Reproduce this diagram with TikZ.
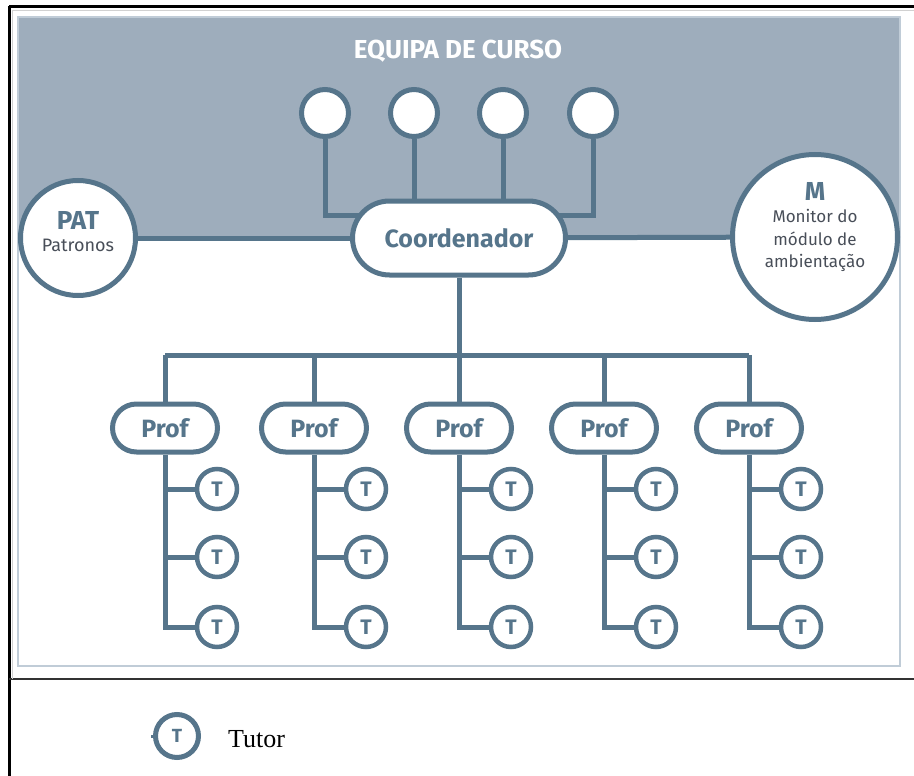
\documentclass[tikz,border=0pt]{standalone}
\usepackage{fontspec}
\setmainfont{Fira Sans}
\newfontfamily\legendfont{Liberation Serif}
\usetikzlibrary{calc}
\definecolor{linec}{RGB}{86,117,139}
\definecolor{bandc}{RGB}{158,173,188}
\definecolor{framec}{RGB}{192,204,215}
\definecolor{plaintext}{RGB}{72,78,88}
\pgfdeclarelayer{band}
\pgfdeclarelayer{wires}
\pgfsetlayers{band,wires,main}
\tikzset{
  wire/.style={draw=linec, line width=5pt},
  member/.style={circle, draw=linec, line width=5pt, fill=white, minimum size=47pt, inner sep=0pt},
  bigrole/.style={circle, draw=linec, line width=5pt, fill=white, inner sep=0pt, text=linec},
  pill/.style={rectangle, rounded corners=#1, draw=linec, line width=5pt, fill=white, inner sep=0pt, text=linec},
  tutor/.style={circle, draw=linec, line width=4.5pt, fill=white, minimum size=40pt, inner sep=0pt, text=linec,
    font=\fontsize{21}{22}\selectfont\bfseries},
}
\begin{document}
\begin{tikzpicture}[x=1pt,y=-1pt]
\useasboundingbox (0,0) rectangle (914,776);

% table frame
\draw[line width=3pt] (9,7) -- (914,7);
\draw[line width=3pt] (9,6) -- (9,776);
\draw[line width=2pt, black!80] (9,679) -- (914,679);
\draw[line width=0.8pt, black!18] (12,679) -- (12,10) -- (914,10);

% diagram area with shaded top band
\begin{pgfonlayer}{band}
  \fill[bandc] (18,17) rectangle (901,238);
  \draw[framec, line width=2pt] (18,17) rectangle (900,666);
\end{pgfonlayer}

\node[text=white, font=\fontsize{26}{28}\selectfont\bfseries] (title) at (458,51) {EQUIPA DE CURSO};

% course team
\node[member] (c1) at (325,113) {};
\node[member] (c2) at (414,113) {};
\node[member] (c3) at (503,113) {};
\node[member] (c4) at (593,113) {};

\node[pill=37pt, minimum width=213pt, minimum height=74pt, font=\fontsize{25}{28}\selectfont\bfseries]
  (coord) at (459,238) {Coordenador};

\node[bigrole, minimum size=115pt] (pat) at (78,238) {};
\node[text=plaintext, align=center, font=\fontsize{18}{22}\selectfont] (pattxt) at (78,232)
  {{\color{linec}\fontsize{26}{26}\selectfont\bfseries PAT}\\Patronos};

\node[bigrole, minimum size=165pt] (mon) at (815,237) {};
\node[text=plaintext, align=center, font=\fontsize{17}{22.5}\selectfont] (montxt) at (815,227)
  {{\color{linec}\fontsize{26}{24}\selectfont\bfseries M}\\Monitor do\\módulo de\\ambientação};

\coordinate (busL) at (165,355);
\coordinate (join) at (459,215);

% professors and their tutors
\foreach \i/\x in {1/165,2/314,3/459,4/604,5/749}{
  \node[pill=24pt, minimum width=105pt, minimum height=48pt, font=\fontsize{25}{28}\selectfont\bfseries]
    (p\i) at (\x,428) {Prof};
  \node[tutor] (t\i a) at (\x+52,489) {T};
  \node[tutor] (t\i b) at (\x+52,557) {T};
  \node[tutor] (t\i c) at (\x+52,627) {T};
}

\begin{pgfonlayer}{wires}
  \draw[wire] (pat) -- (coord);
  \draw[wire] (coord) -- (mon);
  \draw[wire] (c1) |- (join);
  \draw[wire] (c4) |- (join);
  \draw[wire] (c2) -- (c2|-coord.north);
  \draw[wire] (c3) -- (c3|-coord.north);
  \draw[wire] (coord) -- (coord|-busL);
  \draw[wire] (busL) -- (p5|-busL);
  \foreach \i in {1,...,5}{
    \draw[wire] (p\i|-busL) -- (p\i);
    \draw[wire] (p\i) -- (p\i|-t\i c) -- (t\i c);
    \draw[wire] (p\i|-t\i a) -- (t\i a);
    \draw[wire] (p\i|-t\i b) -- (t\i b);
  }
\end{pgfonlayer}

% legend
\node[tutor, minimum size=43pt, line width=5pt, font=\fontsize{19}{20}\selectfont\bfseries] (legT) at (177,736) {T};
\coordinate (legstub) at (151,736);
\draw[draw=linec, line width=3pt] (legstub) -- (legT);
\node[anchor=base west, inner sep=0pt, font=\legendfont\fontsize{26}{28}\selectfont] (legtxt) at (228,747) {Tutor};
\end{tikzpicture}
\end{document}
